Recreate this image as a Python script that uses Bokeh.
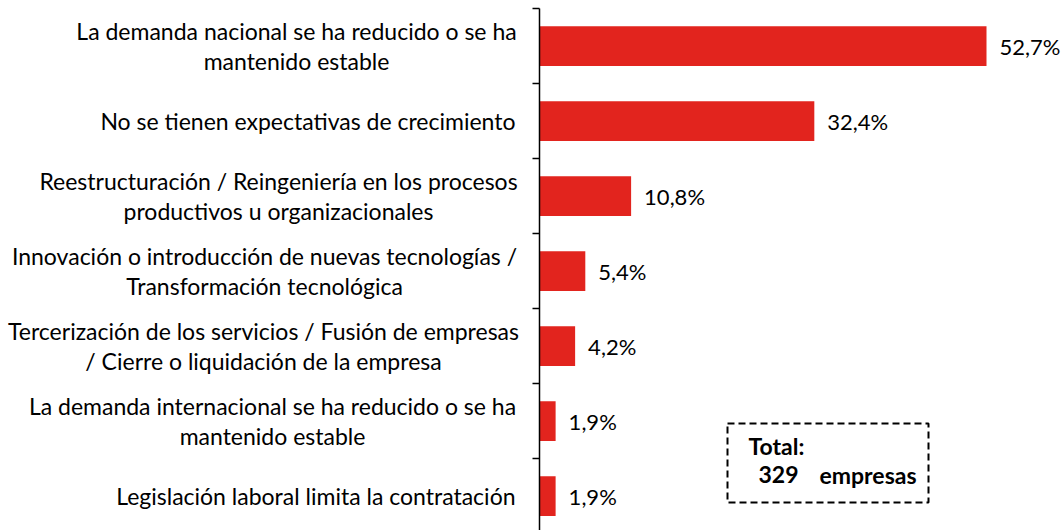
from bokeh.plotting import figure
from bokeh.layouts import row
from bokeh.models import (Range1d, FixedTicker, Label, ColumnDataSource,
                          BoxAnnotation, CustomJSTickFormatter)
from bokeh.core.properties import value
from bokeh.embed import file_html
from bokeh.resources import INLINE

# ---- data ----
categories = [
    "La demanda nacional se ha reducido o se ha\nmantenido estable",
    "No se tienen expectativas de crecimiento",
    "Reestructuración / Reingeniería en los procesos\nproductivos u organizacionales",
    "Innovación o introducción de nuevas tecnologías /\nTransformación tecnológica",
    "Tercerización de los servicios / Fusión de empresas\n/ Cierre o liquidación de la empresa",
    "La demanda internacional se ha reducido o se ha\nmantenido estable",
    "Legislación laboral limita la contratación",
]
values = [52.7, 32.4, 10.8, 5.4, 4.2, 1.9, 1.9]
total_title = "Total:"
total_number = "329"
total_unit = "empresas"

# ---- layout constants ----
FONT = "Lato"
FS = "23px"
FS_VAL = "22px"
BAR_COLOR = "#E2241E"
TOTAL_W, H = 1064, 530
TOP = 8
LEFT_W = 525          # width of label panel
AXIS_PX = 539         # page x of the value axis
PX_PER_UNIT = 8.482
ROW_PX = 75.0
RIGHT_EDGE_PX = 515
label_centers_px = [296, None, 278, 264, 263, 272, None]  # block centres (page px)
LINE_GAP = 15.0

n = len(categories)
idx = list(range(n))
y_range = Range1d(-0.5 + (H - TOP) / ROW_PX, -0.5)

# ---- label panel ----
pl = figure(width=LEFT_W, height=H, output_backend="svg", toolbar_location=None,
            x_axis_location=None, y_axis_location=None,
            min_border_left=0, min_border_right=0, min_border_top=TOP, min_border_bottom=0)
pl.x_range = Range1d(0, LEFT_W)
pl.y_range = y_range
pl.outline_line_color = None
pl.xgrid.visible = False
pl.ygrid.visible = False

lx, ly, lt, la = [], [], [], []
for i, (cat, c) in enumerate(zip(categories, label_centers_px)):
    lines = cat.split("\n")
    if len(lines) == 1:
        lx.append(RIGHT_EDGE_PX); ly.append(i); lt.append(lines[0]); la.append("right")
    else:
        for j, ln in enumerate(lines):
            lx.append(c)
            ly.append(i + (-LINE_GAP if j == 0 else LINE_GAP) / ROW_PX)
            lt.append(ln)
            la.append("center")
lsrc = ColumnDataSource(dict(x=lx, y=ly, t=lt, a=la))
pl.text(x="x", y="y", text="t", text_align="a", text_baseline="middle", source=lsrc,
        text_font=value(FONT), text_font_size=value(FS), text_color="black")

# ---- bar panel ----
RW = TOTAL_W - LEFT_W
BL = AXIS_PX - LEFT_W
p = figure(width=RW, height=H, output_backend="svg", toolbar_location=None,
           x_axis_location=None, y_axis_location="left",
           min_border_left=BL, min_border_right=0, min_border_top=TOP, min_border_bottom=0)
p.x_range = Range1d(0, (RW - BL) / PX_PER_UNIT)
p.y_range = y_range
p.outline_line_color = None
p.xgrid.visible = False
p.ygrid.visible = False

p.hbar(y=idx, right=values, left=0, height=0.53, fill_color=BAR_COLOR, line_color=None)

ax = p.yaxis[0]
ax.ticker = FixedTicker(ticks=[i - 0.5 for i in range(n + 1)])
ax.formatter = CustomJSTickFormatter(code="return ''")
ax.major_label_text_font_size = "0px"
ax.major_label_standoff = 0
ax.major_tick_out = 7
ax.major_tick_in = 0
ax.minor_tick_line_color = None
ax.axis_line_color = "black"
ax.axis_line_width = 1.5
ax.major_tick_line_color = "black"
ax.major_tick_line_width = 1.5

src = ColumnDataSource(dict(x=values, y=idx,
                            t=[f"{v:.1f}".replace(".", ",") + "%" for v in values]))
p.text(x="x", y="y", text="t", source=src, x_offset=13,
       text_baseline="middle", text_align="left",
       text_font=value(FONT), text_font_size=value(FS_VAL), text_color="black")

def dx(px):
    return (px - AXIS_PX) / PX_PER_UNIT

def dy(py):
    return (py - TOP) / ROW_PX - 0.5

p.add_layout(BoxAnnotation(left=dx(727), right=dx(928), top=dy(423), bottom=dy(502),
                           fill_alpha=0, line_color="black", line_alpha=1.0, line_width=2,
                           line_dash="7 4"))
for txt, px, py in [(total_title, 748, 445), (total_number, 758, 474), (total_unit, 819, 474)]:
    p.add_layout(Label(x=dx(px), y=dy(py), text=txt, text_align="left",
                       text_baseline="middle", text_font=FONT, text_font_size=FS,
                       text_font_style="bold", text_color="black"))

layout = row(pl, p, spacing=0)
open("out.html", "w").write(file_html(layout, INLINE))
